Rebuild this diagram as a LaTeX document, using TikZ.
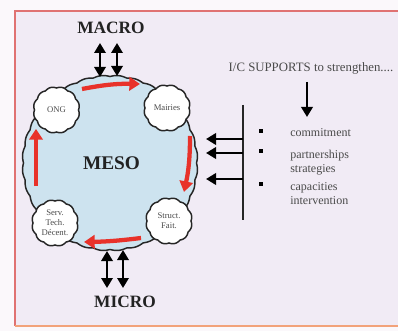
\documentclass[tikz,border=0pt]{standalone}
\usepackage{fontspec}
\setmainfont{Liberation Serif}
\usetikzlibrary{arrows.meta}
\definecolor{pagebg}{HTML}{FBF8FB}
\definecolor{framebg}{HTML}{F1EBF5}
\definecolor{framered}{HTML}{E07272}
\definecolor{frameorange}{HTML}{F2A27A}
\definecolor{blobblue}{HTML}{CDE3EF}
\definecolor{redarrow}{HTML}{E8322A}
\definecolor{inktext}{HTML}{222222}
\definecolor{graytext}{HTML}{4A4A4A}
\tikzset{
  blobline/.style={draw=black!85, line width=1.1pt},
  redflow/.style={redarrow, line width=3.2pt, -{Triangle[length=8pt,width=10pt]}},
  dblarrow/.style={black, line width=1.7pt, {Triangle[length=7.5pt,width=8.5pt]}-{Triangle[length=7.5pt,width=8.5pt]}},
  leftarrow/.style={black, line width=2pt, -{Triangle[length=7.5pt,width=8.5pt]}},
  bigtitle/.style={font=\fontsize{13}{15}\selectfont\bfseries, text=inktext, inner sep=0pt},
  circlabel/.style={font=\fontsize{6.5}{7.5}\selectfont, text=graytext, align=center, inner sep=0pt},
  sidetext/.style={font=\fontsize{9}{10.5}\selectfont, text=graytext, anchor=west, align=left, inner sep=0pt},
  bulletmark/.style={fill=black, minimum size=3pt, inner sep=0pt, draw=none, rectangle}
}
\begin{document}
\begin{tikzpicture}[x=0.75pt,y=-0.75pt]
\useasboundingbox (0,0) rectangle (398,331);
\fill[pagebg] (0,0) rectangle (398,331);
\fill[framebg] (15,11) rectangle (402,326);
\draw[framered, line width=1.1pt] (402,11) -- (15,11) -- (15,326);
\draw[frameorange, line width=1.1pt] (15,326) -- (402,326);

% main MESO blob
\draw[blobline, fill=blobblue] plot[domain=0:360, samples=721]
  ({110+(86.5+1.3*abs(sin(16*\x)))*cos(\x)}, {163+(86.5+1.3*abs(sin(16*\x)))*sin(\x)}) -- cycle;

% four small scalloped circles
\foreach \cx/\cy/\nm in {56.5/110/ong, 167/108/mai, 55/223/ser, 169/221/str}{
  \draw[blobline, fill=white] plot[domain=0:360, samples=361]
    ({\cx+(22+1.2*abs(sin(6*\x)))*cos(\x)}, {\cy+(22+1.2*abs(sin(6*\x)))*sin(\x)}) -- cycle;
  \coordinate (\nm) at (\cx,\cy);
}
\node[circlabel] (ongt) at (ong) {ONG};
\node[circlabel] (mait) at (mai) {Mairies};
\node[circlabel] (sert) at (ser) {Serv.\\Tech.\\Décent.};
\node[circlabel] (strt) at (str) {Struct.\\Fait.};

\node[bigtitle, font=\fontsize{14.5}{16}\selectfont\bfseries] (meso) at (111.5,163) {MESO};
\node[bigtitle] (macro) at (111,28) {MACRO};
\node[bigtitle] (micro) at (125,302) {MICRO};

% red flow arrows
\coordinate (t1) at (82,89);  \coordinate (t2) at (140,84);
\coordinate (r1) at (190,136); \coordinate (r2) at (184,192);
\coordinate (b1) at (141,238); \coordinate (b2) at (84,242);
\coordinate (l1) at (36,186);  \coordinate (l2) at (36,129);
\draw[redflow] (t1) to[bend left=6] (t2);
\draw[redflow] (r1) to[bend left=6] (r2);
\draw[redflow] (b1) to[bend left=3] (b2);
\draw[redflow] (l1) -- (l2);

% macro / micro double arrows
\coordinate (ma1) at (100,43); \coordinate (ma1b) at (100,77);
\coordinate (ma2) at (117,43); \coordinate (ma2b) at (117,76);
\draw[dblarrow] (ma1) -- (ma1b);
\draw[dblarrow] (ma2) -- (ma2b);
\coordinate (mi1) at (107,251); \coordinate (mi1b) at (107,288);
\coordinate (mi2) at (123,250); \coordinate (mi2b) at (123,288);
\draw[dblarrow] (mi1) -- (mi1b);
\draw[dblarrow] (mi2) -- (mi2b);

% support side
\node[font=\fontsize{9.6}{11}\selectfont, text=graytext, inner sep=0pt] (supp) at (311,68) {I/C SUPPORTS to strengthen....};
\coordinate (dn1) at (307,82); \coordinate (dn2) at (307,117);
\draw[leftarrow] (dn1) -- (dn2);

\coordinate (vt) at (243,105); \coordinate (vb) at (243,220);
\draw[black!85, line width=1.2pt] (vt) -- (vb);
\foreach \yy/\nm in {139/a, 153/b, 179/c}{
  \coordinate (s\nm) at (243,\yy);
  \coordinate (e\nm) at (206,\yy);
  \draw[leftarrow] (s\nm) -- (e\nm);
}
\node[bulletmark] (bu1) at (261,131) {};
\node[bulletmark] (bu2) at (261,151) {};
\node[bulletmark] (bu3) at (261,184) {};

\node[sidetext] (commit) at (290,133) {commitment};
\node[sidetext, anchor=north west] (partn) at (290,150) {partnerships\\strategies};
\node[sidetext, anchor=north west] (capac) at (290,182) {capacities\\intervention};
\end{tikzpicture}
\end{document}
